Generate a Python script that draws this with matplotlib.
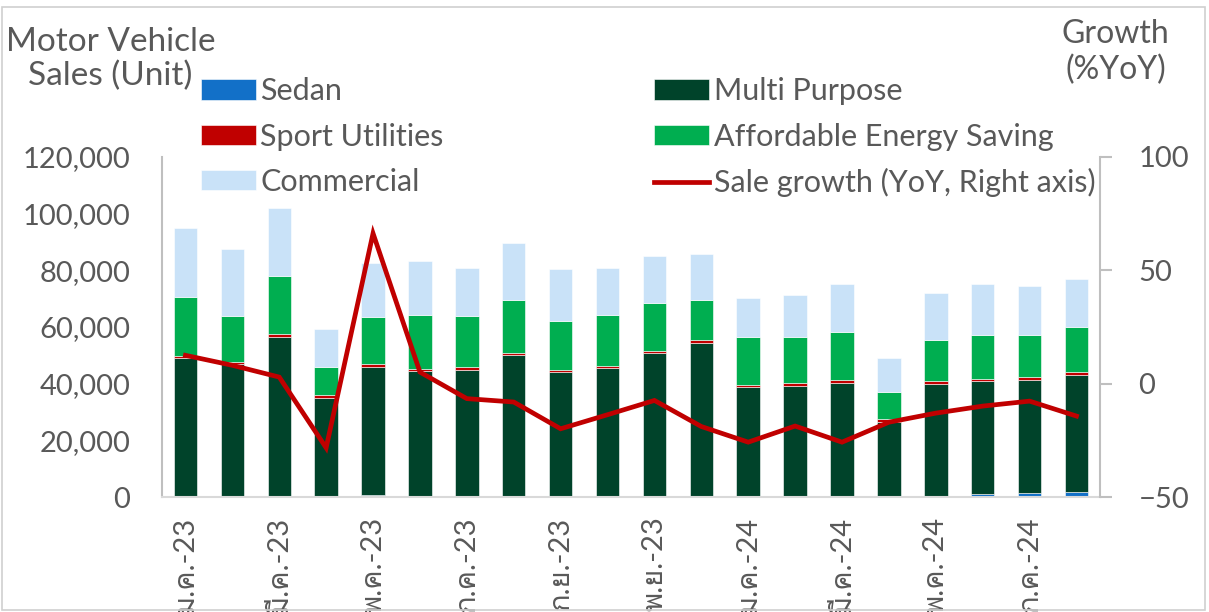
import numpy as np
import matplotlib
matplotlib.use("Agg")
from matplotlib import pyplot as plt
from matplotlib import font_manager
from matplotlib.ft2font import FT2Font
from matplotlib.patches import Rectangle

# data (Jan-23 .. Aug-24)
months = ["ม.ค.-23", "ก.พ.-23", "มี.ค.-23", "เม.ย.-23", "พ.ค.-23", "มิ.ย.-23",
          "ก.ค.-23", "ส.ค.-23", "ก.ย.-23", "ต.ค.-23", "พ.ย.-23", "ธ.ค.-23",
          "ม.ค.-24", "ก.พ.-24", "มี.ค.-24", "เม.ย.-24", "พ.ค.-24", "มิ.ย.-24",
          "ก.ค.-24", "ส.ค.-24"]
sedan = [300, 500, 500, 300, 600, 400, 400, 500, 400, 500,
         400, 300, 300, 300, 300, 300, 400, 950, 1500, 1750]
multi_purpose = [48750, 46600, 55960, 34740, 45170, 44070, 44520, 49500, 43600, 44910,
                 50310, 53940, 38410, 38980, 40040, 26170, 39480, 39880, 39680, 41300]
sport_util = [700, 500, 960, 850, 1160, 810, 1060, 920, 820, 820,
              810, 1160, 710, 840, 1060, 950, 950, 920, 1060, 1170]
affordable = [20930, 16410, 20680, 10090, 16480, 18950, 17780, 18600, 17290, 18000,
              16840, 14010, 16940, 16450, 16940, 9740, 14580, 15310, 14820, 15670]
commercial = [24140, 23650, 23780, 13420, 19270, 19060, 17160, 20010, 18240, 16590,
              16580, 16340, 13760, 14600, 16830, 11890, 16470, 18110, 17510, 16930]
growth = [12.5, 8.1, 2.9, -28.3, 66.3, 5.1, -6.6, -8.1, -19.9, -13.7,
          -7.4, -18.9, -25.8, -18.7, -25.8, -17.0, -13.0, -9.9, -7.7, -14.3]


def find_thai_font():
    for f in font_manager.fontManager.ttflist:
        try:
            cmap = FT2Font(f.fname).get_charmap()
        except Exception:
            continue
        if 0x0E04 in cmap and 0x0E21 in cmap:
            return f.name
    return None


main_font = "Lato"
thai = find_thai_font()
fams = [main_font, thai, "DejaVu Sans"] if thai else [main_font, "DejaVu Sans"]
plt.rcParams['font.family'] = fams

grey = "#595959"
spine_c = "#bfbfbf"

fig = plt.figure(figsize=(12.09, 6.12), dpi=100)
ax = fig.add_axes([0.1340, 0.1879, 0.7758, 0.5556])
ax2 = ax.twinx()

x = np.arange(len(months))
w = 0.5
bottom = np.zeros(len(months))
series = [(sedan, "#1270c8", "Sedan"),
          (multi_purpose, "#00432a", "Multi Purpose"),
          (sport_util, "#c00000", "Sport Utilities"),
          (affordable, "#00ae50", "Affordable Energy Saving"),
          (commercial, "#c9e2f8", "Commercial")]
handles = {}
for vals, col, name in series:
    vals = np.array(vals)
    b = ax.bar(x, vals, w, bottom=bottom, color=col, label=name,
               edgecolor="white", linewidth=0.4)
    handles[name] = b
    bottom += vals

ln, = ax2.plot(x, growth, color="#c00000", lw=3.4,
               label="Sale growth (YoY, Right axis)", solid_joinstyle="miter")

ax.set_xlim(-0.5, len(months) - 0.5)
ax.set_ylim(0, 120000)
ax.set_yticks(np.arange(0, 120001, 20000))
ax.set_yticklabels([f"{v:,}" for v in range(0, 120001, 20000)])
ax2.set_ylim(-50, 100)
ax2.set_yticks([-50, 0, 50, 100])

ax.set_xticks(x[::2])
ax.set_xticklabels(months[::2], rotation=90, va="top", ha="center")

for a in (ax, ax2):
    for s in a.spines.values():
        s.set_visible(False)
ax.spines["left"].set_visible(True)
ax.spines["left"].set_color(spine_c)
ax.spines["left"].set_linewidth(1.5)
ax.spines["bottom"].set_visible(True)
ax.spines["bottom"].set_color("#d9d9d9")
ax.spines["bottom"].set_linewidth(1.5)
ax2.spines["right"].set_visible(True)
ax2.spines["right"].set_color(spine_c)
ax2.spines["right"].set_linewidth(1.5)

ax.tick_params(axis="y", length=0, pad=23, labelsize=21, labelcolor=grey)
ax.tick_params(axis="x", length=0, pad=14, labelsize=21, labelcolor=grey)
ax2.tick_params(axis="y", length=8.6, width=1.5, color=spine_c, pad=19,
                labelsize=21, labelcolor=grey)

fig.text(0.0914, 0.904, "Motor Vehicle\nSales (Unit)", ha="center", va="center",
         fontsize=24, color=grey, linespacing=1.15)
fig.text(0.9227, 0.915, "Growth\n(%YoY)", ha="center", va="center",
         fontsize=23, color=grey, linespacing=1.25)

order = ["Sedan", "Sport Utilities", "Commercial",
         "Multi Purpose", "Affordable Energy Saving"]
hs = [handles[n] for n in order] + [ln]
labs = order + ["Sale growth (YoY, Right axis)"]
fig.legend(hs, labs, loc="upper left", bbox_to_anchor=(0.166, 0.874), ncol=2,
           frameon=False, fontsize=22, labelcolor=grey, handlelength=1.8,
           handleheight=0.65, handletextpad=0.15, columnspacing=6.9,
           labelspacing=0.57, borderaxespad=0, borderpad=0)

fig.patches.append(Rectangle((0.002, 0.004), 0.995, 0.985, transform=fig.transFigure,
                             fill=False, edgecolor="#d0d0d0", lw=1.2))

fig.savefig("out.png", dpi=100)
